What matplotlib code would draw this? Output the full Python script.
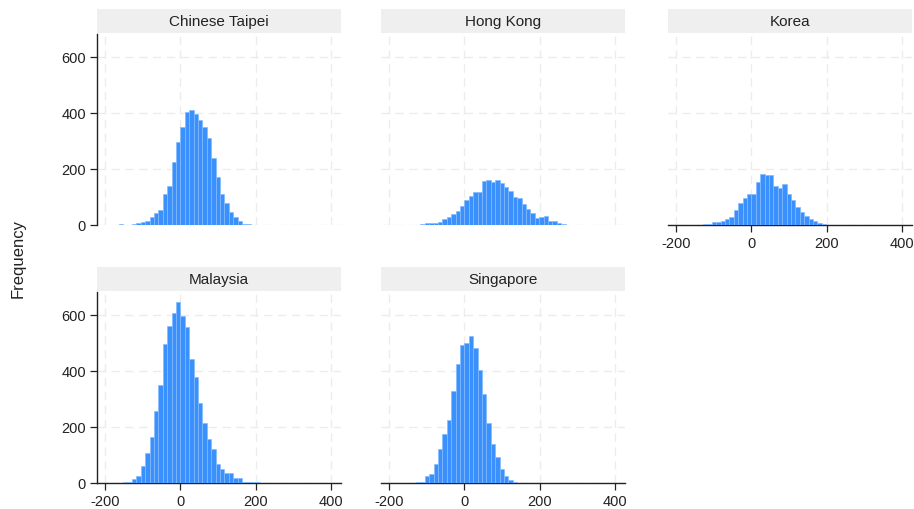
import matplotlib
matplotlib.use("Agg")
import matplotlib.pyplot as plt
from matplotlib.patches import Rectangle
import numpy as np

plt.rcParams['font.family'] = ['Liberation Sans', 'DejaVu Sans']
plt.rcParams['axes.unicode_minus'] = False

# ---- data ----
categories = ["Chinese Taipei", "Hong Kong", "Korea", "Malaysia", "Singapore"]
bin_width = 11.7
bin_start = [-163.8, -152.1, -128.7, -152.1, -128.7]

taipei_counts = [2, 0, 1, 5, 7, 10, 15, 27, 43, 55, 110, 140, 224, 298,
                 350, 405, 412, 398, 374, 350, 311, 238, 170, 111, 80, 45, 27, 13, 5, 2, 1, 1]
hongkong_counts = [1, 1, 1, 5, 6, 7, 8, 9, 20, 30, 39, 51, 69,
                   89, 102, 118, 118, 156, 161, 154, 161, 149, 137, 120, 99, 95, 75, 56, 42,
                   25, 27, 31, 15, 15, 6, 2, 0, 1, 1, 1]
korea_counts = [3, 3, 9, 11, 14, 23, 27, 55, 79, 95, 112,
                112, 152, 181, 177, 177, 140, 132, 145, 112, 88, 64, 46, 31, 21, 15, 7, 4, 1]
malaysia_counts = [4, 4, 14, 25, 62, 107, 166, 257, 349, 497, 562, 608, 645,
                   596, 556, 443, 378, 285, 216, 158, 122, 68, 50, 36, 37, 18, 18, 4, 4, 4, 2]
singapore_counts = [2, 2, 26, 33, 68, 123, 176, 224, 327, 426, 492,
                    501, 525, 481, 404, 319, 215, 140, 93, 50, 24, 10, 5]
all_counts = [taipei_counts, hongkong_counts, korea_counts, malaysia_counts, singapore_counts]

x_ticks = [-200, 0, 200, 400]
y_ticks = [0, 200, 400, 600]

# ---- figure ----
W, H = 914, 510
fig = plt.figure(figsize=(W / 100, H / 100), dpi=100)

col_left = [97, 381, 668]
ax_w = 244
row_top = [35, 293]
ax_h = 191
strip_h = 24

bar_color = '#3a90fd'
edge_color = '#84bbff'
grid_color = '#ececec'

positions = [(0, 0), (0, 1), (0, 2), (1, 0), (1, 1)]
for i, (r, c) in enumerate(positions):
    left = col_left[c] / W
    bottom = 1 - (row_top[r] + ax_h) / H
    ax = fig.add_axes([left, bottom, ax_w / W, ax_h / H])
    counts = np.array(all_counts[i])
    lefts = bin_start[i] + bin_width * np.arange(len(counts))
    ax.bar(lefts, counts, width=bin_width, align='edge', color=bar_color,
           edgecolor=edge_color, linewidth=0.5, zorder=3)
    ax.set_xlim(-222, 427)
    ax.set_ylim(0, 682)
    ax.set_xticks(x_ticks)
    ax.set_yticks(y_ticks)
    ax.grid(True, color=grid_color, linestyle=(0, (6, 4)), linewidth=1.0, zorder=0)
    ax.set_axisbelow(True)
    for s in ['top', 'right']:
        ax.spines[s].set_visible(False)
    show_left = (c == 0)
    show_bottom = (r == 1) or (c == 2)
    ax.spines['left'].set_visible(show_left)
    ax.spines['bottom'].set_visible(show_bottom)
    for s in ['left', 'bottom']:
        ax.spines[s].set_color('#222222')
        ax.spines[s].set_linewidth(1.0)
    ax.tick_params(axis='y', left=show_left, labelleft=show_left, length=5,
                   width=0.9, color='#222222', labelsize=10.5, labelcolor='#222222', pad=3)
    ax.tick_params(axis='x', bottom=show_bottom, labelbottom=show_bottom, length=5,
                   width=0.9, color='#222222', labelsize=10.5, labelcolor='#222222', pad=3)
    ax.add_patch(Rectangle((0, 1 + 1 / ax_h), 1, strip_h / ax_h, transform=ax.transAxes,
                           facecolor='#efefef', edgecolor='none', clip_on=False))
    ax.text(0.5, 1 + (strip_h / 2 + 1) / ax_h, categories[i], transform=ax.transAxes,
            ha='center', va='center', fontsize=11, color='#222222')

fig.text(18 / W, 1 - 258 / H, 'Frequency', rotation=90, ha='center', va='center',
         fontsize=12, color='#222222')

fig.savefig('out.png', dpi=100)
